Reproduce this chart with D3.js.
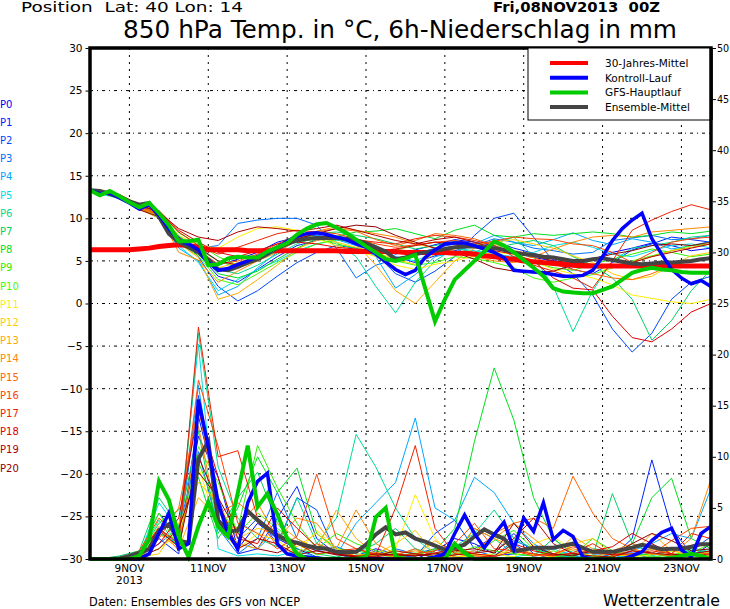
<!DOCTYPE html>
<html>
<head>
<meta charset="utf-8">
<script src="https://cdn.jsdelivr.net/npm/d3@7"></script>
<style>
  body { margin: 0; background: #fff; }
  text { font-family: "DejaVu Sans", sans-serif; }
</style>
</head>
<body>
<div id="chart"></div>
<script>
// time axis (hours after 08NOV2013 00Z)
const hours = d3.range(0, 379, 6)        // main runs, 6h steps
const pertHours = d3.range(6, 379, 12)   // members, read every 12h
const dateTickHours = [24, 72, 120, 168, 216, 264, 312, 360]
const dateLabels = ["9NOV", "11NOV", "13NOV", "15NOV", "17NOV", "19NOV", "21NOV", "23NOV"]
const tempTicks = [-30, -25, -20, -15, -10, -5, 0, 5, 10, 15, 20, 25, 30]
const precTicks = [0, 5, 10, 15, 20, 25, 30, 35, 40, 45, 50]

// 850 hPa temperature, main lines
const climTemp = [6.3,6.3,6.3,6.3,6.3, 6.4,6.5,6.7,6.8,6.9, 6.8,6.6,6.3,6.3,6.3, 6.3,6.2,6.2,6.2,6.2,
  6.2,6.2,6.2,6.2,6.2, 6.2,6.1,6.1,6.1,6.1, 6.1,6.1,6.0,6.0,6.0, 6.0,6.0,5.9,5.9,5.8,
  5.6,5.5,5.3,5.2,5.0, 4.9,4.8,4.7,4.6,4.5, 4.4,4.4,4.4,4.4,4.4, 4.4,4.4,4.4,4.4,4.4, 4.4,4.4,4.4,4.4]
const ctrlTemp = [13.3,12.9,13.0,12.4,11.8, 11.1,11.6,10.4,8.8,7.4, 7.0,6.3,4.8,3.9,4.1, 4.6,5.0,5.5,6.0,6.6,
  7.3,7.9,8.2,8.3,8.1, 7.8,7.5,7.0,6.6,5.8, 4.9,4.0,3.4,3.9,5.4, 6.3,7.0,7.1,7.1,6.8,
  6.4,6.0,5.4,3.9,3.8, 3.7,3.6,3.4,3.2,3.2, 3.3,3.9,5.5,7.4,8.8, 9.8,10.6,7.6,5.8,4.0, 3.0,2.3,2.7,2.0]
const gfsTemp = [13.3,12.7,13.2,12.6,11.9, 11.3,11.8,10.6,9.2,7.3, 7.3,7.5,4.5,4.6,5.3, 5.5,5.4,5.4,6.1,6.6,
  7.1,8.1,8.8,9.3,9.45, 8.9,8.3,7.5,6.7,6.0, 5.2,5.0,5.3,5.7,1.8, -2.1,0.5,2.8,3.9,5.0,
  6.1,7.3,6.8,6.0,5.1, 4.2,3.2,1.8,1.4,1.3, 1.2,1.2,1.6,2.0,2.8, 3.6,3.95,4.2,4.0,3.9, 3.7,3.6,3.6,3.6]
const meanTemp = [13.3,13.2,12.9,12.5,12.0, 11.6,11.8,10.2,8.2,7.2, 6.6,6.0,5.1,4.0,3.9, 4.3,4.8,5.2,5.8,6.5,
  7.0,7.4,7.6,7.7,7.7, 7.7,7.6,7.4,7.1,6.6, 6.1,5.2,5.4,5.8,6.0, 6.2,6.4,6.6,6.7,6.7,
  6.6,6.5,6.3,6.0,5.8, 5.7,5.5,5.4,5.2,5.0, 5.0,5.2,5.3,5.1,4.9, 4.7,4.6,4.7,4.8,4.8, 4.9,5.0,5.2,5.3]

// 6h precipitation, main lines
const ctrlPrec = [0,0,0,0,0, 0,0.5,2.5,4.5,1.0, 1.5,15.6,11.0,5.5,2.5, 1.0,5.5,7.6,8.4,1.5,
  0.5,0.3,0.2,0.1,0, 0,0,0,0,0, 0,0,0,0,0, 0.2,0.5,2.5,4.3,2.5,
  1.1,2.4,3.6,1.0,4.0, 2.7,5.5,1.9,2.8,2.2, 0.2,0,0,0,0, 0.3,0.7,1.8,2.6,3.0, 0.9,0.2,2.5,3.2]
const gfsPrec = [0,0,0,0,0, 0.3,1.9,7.6,5.8,2.2, 0.2,3.2,5.6,3.2,2.2, 6.5,11.1,5.1,6.4,4.4,
  2.0,0.5,0,0,0, 0,0,0,0.2,4.1, 5.0,0.2,0,0,0, 0,0,1.5,0.6,0,
  0,0,0,0,0, 0,0,0,0,0, 0,0,0,0,0, 0,0,0,0,0.1, 0.3,0.5,0.3,0]
const meanPrec = [0,0,0,0.05,0.3, 0.6,1.0,2.8,3.4,1.8, 1.6,9.8,11.5,3.8,2.7, 2.8,4.7,3.8,3.0,2.3,
  1.8,1.6,1.3,1.1,1.0, 0.7,0.65,0.7,1.4,2.4, 3.1,2.4,2.6,2.0,1.7, 1.3,0.9,1.1,1.4,2.2,
  2.9,2.4,2.0,0.8,0.9, 1.1,1.1,1.1,1.3,1.5, 1.1,0.7,0.7,0.7,0.9, 1.1,1.4,1.2,0.95,1.0, 1.0,1.2,1.45,1.45]

// ensemble members, temperature
const tP0 = [13.1,12.6,11.3,10.4,7.8,6.2,4.5,5.2, 6.0,7.2,7.8,8.0,7.6,7.0,6.4,5.8, 6.3,6.9,7.5,7.2,6.8,6.0,5.4,5.0, 4.6,5.2,6.0,6.5,7.1,6.8,6.2,6.5]
const tP1 = [13.2,12.4,11.0,10.6,7.2,5.8,3.2,2.5, 4.0,5.5,6.8,7.4,7.9,7.5,6.3,5.5, 4.8,5.6,6.2,6.8,7.3,6.5,5.9,5.2, 4.0,3.5,4.8,6.3,7.0,7.8,7.5,7.2]
const tP2 = [13.0,12.7,11.5,10.2,8.0,5.5,2.0,0.3, 1.5,3.2,4.8,6.0,6.8,6.5,5.8,3.5, 2.5,3.8,5.5,8.0,10.0,10.6,7.8,5.0, 3.5,1.0,-3.0,-5.7,-3.5,0.5,2.5,3.2]
const tP3 = [13.3,12.5,11.1,10.8,7.0,6.5,6.8,9.4, 9.8,10.0,10.0,9.2,6.5,3.0,4.5,5.2, 5.8,6.5,7.0,6.8,7.6,7.2,6.5,6.2, 5.8,6.0,7.4,7.7,8.0,7.5,7.6,8.0]
const tP4 = [13.0,12.6,11.4,10.3,6.5,5.0,1.0,2.0, 4.2,6.0,7.4,8.0,7.5,6.8,5.5,1.8, 3.4,5.5,6.0,7.0,8.0,7.2,6.8,7.5, 8.3,7.4,6.9,7.6,7.2,6.4,6.8,7.3]
const tP5 = [12.9,12.3,11.2,10.0,6.8,4.8,1.5,2.8, 4.0,5.0,6.2,7.0,7.4,7.6,6.8,5.5, 5.0,6.0,6.5,6.2,5.8,5.5,6.0,6.8, 7.2,6.6,5.8,5.5,6.2,6.8,7.0,6.5]
const tP6 = [13.1,12.5,11.5,10.5,7.6,5.9,4.0,3.5, 4.5,5.8,7.0,7.8,7.2,5.5,2.0,-1.1, 2.5,5.0,6.5,6.0,7.0,7.8,5.5,2.0, -3.3,1.5,5.0,6.5,6.8,7.2,7.8,8.0]
const tP7 = [13.2,12.6,11.0,10.7,7.9,6.4,5.0,4.2, 5.0,6.2,7.5,8.2,8.4,8.0,7.6,7.0, 6.4,6.8,7.3,7.0,6.5,7.0,7.4,6.8, 5.5,4.5,3.0,0.5,-4.3,-2.0,1.5,4.0]
const tP8 = [13.0,12.4,11.3,10.4,7.4,6.0,3.5,3.0, 3.8,5.2,6.5,7.6,7.9,8.4,8.5,8.8, 8.2,7.6,8.6,9.2,8.0,7.8,8.2,8.0, 8.2,8.4,8.2,7.8,8.0,8.4,8.2,8.5]
const tP9 = [13.1,12.7,11.6,10.8,8.3,7.0,5.5,4.5, 5.5,6.5,7.2,7.6,7.0,6.5,6.0,6.3, 6.8,7.2,7.0,6.6,6.0,5.2,4.8,4.2, 3.9,4.6,5.2,5.8,6.4,6.0,5.5,5.8]
const tP10 = [13.2,12.5,11.2,10.3,7.0,5.6,2.8,2.2, 3.5,4.8,6.0,7.0,7.5,7.2,6.0,5.0, 4.5,4.8,5.5,5.3,4.8,4.2,3.0,2.5, 3.0,3.4,4.2,5.0,5.6,6.2,6.8,7.0]
const tP11 = [13.0,12.6,11.3,10.6,8.0,6.8,6.5,7.8, 8.8,9.0,8.6,7.6,6.8,6.2,5.5,4.5, 4.0,4.6,5.0,5.6,6.0,5.8,5.0,4.0, 3.5,3.0,2.2,1.0,0.6,0.2,0.0,0.5]
const tP12 = [13.1,12.5,11.4,10.2,7.6,6.0,4.2,4.8, 5.6,6.6,7.4,7.8,7.2,6.6,6.0,5.2, 4.6,5.8,6.4,6.9,7.2,7.5,7.0,6.5, 5.6,4.8,3.5,2.8,3.2,4.5,5.6,6.0]
const tP13 = [13.2,12.4,11.1,10.0,7.1,5.4,0.5,1.2, 2.8,4.5,6.4,7.4,8.0,7.0,4.5,1.5, 0.0,2.5,5.0,6.5,7.0,6.2,5.8,5.4, 5.0,4.6,4.2,4.8,5.5,6.2,6.6,7.0]
const tP14 = [13.0,12.6,11.0,10.5,6.0,5.1,2.5,3.8, 5.0,6.0,7.4,8.5,9.0,8.6,8.2,7.8, 7.0,6.5,6.0,5.5,5.0,4.8,5.5,6.4, 7.2,7.8,8.0,7.8,8.4,8.6,8.8,9.0]
const tP15 = [13.1,12.3,11.2,10.4,7.3,6.1,3.8,4.2, 5.2,6.4,7.6,8.4,8.8,8.5,7.5,6.8, 7.4,8.2,8.0,7.6,6.8,6.0,5.4,4.6, 4.0,3.5,3.0,2.8,3.5,4.5,5.0,5.5]
const tP16 = [13.0,12.5,11.3,10.6,7.7,6.3,4.6,5.0, 5.8,7.0,8.0,8.4,8.2,7.6,7.0,6.6, 6.9,7.2,7.4,7.0,7.3,7.8,7.6,7.5, 7.0,6.8,6.0,4.8,6.0,7.2,7.6,7.8]
const tP17 = [13.2,12.6,11.4,10.8,8.4,6.8,5.8,6.6, 7.4,8.2,8.6,8.4,7.8,7.5,7.2,7.0, 7.6,8.0,7.8,7.4,6.8,5.5,4.5,3.8, 3.0,1.8,5.0,8.6,9.8,10.8,11.6,11.0]
const tP18 = [13.1,12.7,11.5,10.9,8.6,7.2,6.0,5.5, 6.2,7.0,7.2,7.0,6.6,6.4,6.2,6.4, 6.8,7.2,7.0,6.6,6.2,5.8,5.0,3.0, 1.8,1.6,-1.5,-4.0,-4.5,-3.0,-1.0,0.0]
const tP19 = [13.3,12.8,11.6,10.7,8.8,7.8,7.4,8.4, 9.0,8.8,8.5,8.8,9.2,8.6,8.0,7.4, 7.0,7.5,7.8,7.2,6.5,6.0,5.6,5.0, 4.8,4.6,4.4,4.8,5.5,6.0,6.5,7.0]
const tP20 = [13.0,12.4,11.0,10.2,7.5,6.6,5.0,4.5, 5.5,6.8,7.6,8.2,8.8,9.2,9.0,8.0, 7.2,6.5,6.0,5.2,4.2,3.8,3.6,3.8, 4.5,5.2,5.8,6.2,6.8,7.0,6.8,7.2]

// ensemble members, precipitation
const rP0 = [0,0,0.5,3.0,1.2,12.0,8.0,1.0, 3.5,2.0,1.0,0.2,0,0.3,1.0,0.5, 0,0.8,2.0,1.5,0.5,2.5,0.5,0, 0.3,0,0,0.5,1.0,0.5,0.2,1.5]
const rP1 = [0,0,0.3,2.0,0.5,14.0,6.0,0.5, 1.0,4.0,7.1,2.0,0.5,0,0.2,0, 0.5,1.0,0.2,0,0.3,0.5,1.2,0.4, 0,0,0.2,2.0,9.7,3.0,0.5,0.8]
const rP2 = [0,0,0.6,4.5,2.0,16.0,5.0,2.0, 4.0,1.5,6.0,4.8,0.5,0.2,0.8,0.3, 0.2,2.5,3.8,1.0,2.2,1.5,0.2,0, 0.2,0,0.5,0.6,0.3,0,0.8,2.2]
const rP3 = [0,0,0.2,1.5,3.0,10.5,3.0,0.5, 2.0,6.5,2.0,0.8,1.2,0.5,0.3,1.0, 0.5,0.2,0.5,0.8,0.3,1.8,1.0,0, 0.4,0.6,0.2,0,0.4,1.0,0.5,0.3]
const rP4 = [0,0,0.8,2.5,1.5,17.0,4.0,1.5, 1.0,2.8,0.5,1.5,0.4,3.5,5.5,7.5, 13.8,5.0,3.8,8.0,6.5,3.5,1.5,0.4, 0.8,0.5,0,0.8,1.5,2.5,2.0,6.9]
const rP5 = [0,0.2,0.3,5.5,2.8,21.0,1.0,0.3, 0.5,0.3,0.8,0.2,0,0.4,0.6,0.3, 1.0,0.5,0.3,0,0.5,0.2,0.5,1.0, 0.3,0.2,0,0.5,0.3,0.8,1.2,0.5]
const rP6 = [0,0,0.5,3.8,1.0,22.1,9.0,4.0, 2.0,1.2,6.0,1.5,4.0,12.2,9.0,5.0, 2.0,0.5,1.2,2.5,4.8,2.0,1.0,0.4, 0.2,1.0,0.8,0.3,0.6,0.2,0.5,1.0]
const rP7 = [0,0.3,0.8,6.0,3.2,12.5,2.5,6.0, 8.5,3.5,1.0,0.5,0.2,0.6,1.5,3.0, 1.0,0.2,0.5,3.0,2.0,0.5,0.3,2.0, 0.5,0.3,6.4,1.5,0.5,0.2,1.0,0.4]
const rP8 = [0,0,0.4,3.5,4.8,8.0,2.0,5.0, 10.0,6.5,8.9,2.5,1.0,0.8,0.4,0.2, 0.5,0.8,3.0,11.5,18.7,13.6,6.0,2.0, 0.5,0.3,0.2,1.5,6.0,7.9,2.0,1.0]
const rP9 = [0,0,0.2,2.5,1.8,9.5,4.5,3.0, 11.1,7.0,3.5,1.0,2.5,1.5,0.8,0.5, 0.3,1.0,0.6,0.4,1.8,2.8,1.0,0.2, 0.4,2.0,0.8,0.3,0.5,0.4,0.8,3.5]
const rP10 = [0,0,0.5,4.5,1.0,11.0,7.5,2.5, 4.5,3.0,1.5,0.4,0.8,0.2,0.5,0.3, 0.6,0.2,0.4,1.2,0.8,0.5,0.3,0.8, 0.2,0,0.3,0.5,0.2,0.4,0.6,1.5]
const rP11 = [0,0,0.3,1.0,2.5,9.0,3.0,1.0, 2.5,1.8,0.5,2.8,1.0,0.5,0.3,1.0, 6.3,2.0,0.2,0.3,0.5,0.2,1.5,2.2, 0.8,0.3,0.5,0.2,0.4,0.8,0.3,0.6]
const rP12 = [0,0,0.2,0.5,3.5,7.5,5.5,2.0, 3.0,2.5,1.2,2.5,0.8,0.3,0.5,1.5, 2.8,0.4,0.2,0.5,0.3,1.0,0.4,0.2, 1.5,2.0,0.5,0.3,1.0,0.5,0.2,0.8]
const rP13 = [0,0,0.6,2.5,1.0,6.0,4.0,1.5, 1.0,3.5,2.0,1.0,4.8,2.0,0.5,0.2, 0.4,1.8,0.5,0.8,2.0,1.2,0.5,0.3, 2.2,1.0,0.3,0.5,2.5,0.8,0.5,0.3]
const rP14 = [0,0,0.4,3.2,0.8,13.0,3.5,3.0, 5.5,2.0,4.0,3.5,1.0,4.8,1.5,0.5, 0.8,0.5,0.3,3.0,2.0,3.5,2.0,0.5, 1.0,0.5,0.8,1.5,1.0,0.5,2.0,7.8]
const rP15 = [0,0,0.3,2.0,5.0,15.0,4.5,5.5, 4.0,1.2,0.5,1.5,0.8,0.3,0.6,0.4, 1.0,0.2,0.8,0.5,2.5,3.5,4.0,3.0, 8.1,4.5,2.0,1.0,0.5,0.3,0.4,0.6]
const rP16 = [0,0,0.8,4.0,2.2,17.5,11.0,3.5, 2.5,1.0,2.2,8.3,2.0,1.0,0.5,0.3, 0.5,0.8,1.5,3.5,1.0,0.8,0.3,0.5, 1.2,0.6,0.4,0.8,0.5,1.8,3.0,3.2]
const rP17 = [0,0,0.5,3.0,1.5,22.7,10.0,10.6, 4.0,2.5,1.5,0.5,0.8,1.0,0.4,5.0, 11.1,3.0,0.5,0.3,0.2,0.8,0.5,0.3, 0.6,1.5,0.4,0.5,0.8,0.5,2.5,2.0]
const rP18 = [0,0,0.3,1.5,4.0,14.5,8.0,2.0, 1.5,5.0,3.0,1.2,0.5,0.3,0.2,0.5, 0.3,0.6,1.0,0.5,0.3,1.5,0.8,0.4, 0.5,0.8,1.2,2.5,1.5,0.5,0.3,0.5]
const rP19 = [0,0,0.6,2.8,1.2,10.0,5.5,1.0, 2.0,1.5,0.4,0.8,0.5,0.2,0.3,0.8, 0.5,0.2,0.4,0.6,0.8,2.0,4.0,1.5, 0.5,0.3,0.2,0.8,0.6,0.4,0.5,0.8]
const rP20 = [0,0,0.2,1.0,3.0,8.5,6.0,2.5, 1.0,0.6,1.5,0.8,0.4,0.2,0.5,0.4, 0.3,0.5,0.8,1.0,0.6,3.5,1.2,0.5, 0.3,0.8,0.4,1.5,2.5,1.8,0.8,1.0]

const memberNames = ["P0","P1","P2","P3","P4","P5","P6","P7","P8","P9","P10",
  "P11","P12","P13","P14","P15","P16","P17","P18","P19","P20"]
const memberColors = ["#0000ff","#0022ff","#0048ff","#0070ff","#00a8ff","#00dde8","#00dd90","#00d060",
  "#00e020","#30ee00","#40ff00","#ffee00","#ffcc00","#ffaa00","#ff8800","#ff6600","#ff4400","#ee2200",
  "#dd0000","#b00000","#900000"]
const legendNames = ["30-Jahres-Mittel", "Kontroll-Lauf", "GFS-Hauptlauf", "Ensemble-Mittel"]
const legendColors = ["#ff0000", "#0000ff", "#00cc00", "#444444"]

const memberTemps = [tP0,tP1,tP2,tP3,tP4,tP5,tP6,tP7,tP8,tP9,tP10,tP11,tP12,tP13,tP14,tP15,tP16,tP17,tP18,tP19,tP20]
const memberPrecs = [rP0,rP1,rP2,rP3,rP4,rP5,rP6,rP7,rP8,rP9,rP10,rP11,rP12,rP13,rP14,rP15,rP16,rP17,rP18,rP19,rP20]

const pL = 90, pR = 711, pT = 48, pB = 559

const svg = d3.select("#chart").append("svg")
  .attr("width", 730)
  .attr("height", 609)
  .style("background-color", "#fff")

const x = d3.scaleLinear().domain([0, 378]).range([pL, pR])
const yT = d3.scaleLinear().domain([-30, 30]).range([pB, pT])
const yP = d3.scaleLinear().domain([0, 50]).range([pB, pT])

svg.append("defs").append("clipPath").attr("id", "plot")
  .append("rect").attr("x", pL).attr("y", pT).attr("width", pR - pL).attr("height", pB - pT + 3)

// dotted grid
svg.append("g").selectAll("line").data(dateTickHours).join("line")
  .attr("x1", d => x(d)).attr("x2", d => x(d))
  .attr("y1", pT).attr("y2", pB)
  .attr("stroke", "#000").attr("stroke-width", 1)
  .attr("stroke-dasharray", "2,5")
svg.append("g").selectAll("line").data(tempTicks.slice(1, -1)).join("line")
  .attr("x1", pL).attr("x2", pR)
  .attr("y1", d => yT(d)).attr("y2", d => yT(d))
  .attr("stroke", "#000").attr("stroke-width", 1)
  .attr("stroke-dasharray", "3,4,1,4")

const plot = svg.append("g").attr("clip-path", "url(#plot)")

const lineT = hs => d3.line().x((d, i) => x(hs[i])).y(d => yT(d))
const lineP = hs => d3.line().x((d, i) => x(hs[i])).y(d => yP(d))

// members
memberPrecs.forEach((s, k) => {
  plot.append("path").datum(s).attr("d", lineP(pertHours))
    .attr("fill", "none").attr("stroke", memberColors[k]).attr("stroke-width", 1)
})
memberTemps.forEach((s, k) => {
  plot.append("path").datum(s).attr("d", lineT(pertHours))
    .attr("fill", "none").attr("stroke", memberColors[k]).attr("stroke-width", 1)
})

// frame
svg.append("rect")
  .attr("x", pL).attr("y", pT).attr("width", pR - pL).attr("height", pB - pT)
  .attr("fill", "none").attr("stroke", "#000").attr("stroke-width", 3.5)

// main runs
const mains = [
  { t: climTemp, p: null, c: legendColors[0], w: 5 },
  { t: meanTemp, p: meanPrec, c: legendColors[3], w: 4 },
  { t: ctrlTemp, p: ctrlPrec, c: legendColors[1], w: 3.5 },
  { t: gfsTemp, p: gfsPrec, c: legendColors[2], w: 4 }
]
mains.forEach(m => {
  if (m.p) plot.append("path").datum(m.p).attr("d", lineP(hours))
    .attr("fill", "none").attr("stroke", m.c).attr("stroke-width", m.w)
  plot.append("path").datum(m.t).attr("d", lineT(hours))
    .attr("fill", "none").attr("stroke", m.c).attr("stroke-width", m.w)
})

// axes
const axL = svg.append("g").attr("transform", `translate(${pL - 1.5},0)`)
  .call(d3.axisLeft(yT).tickValues(tempTicks).tickSize(3).tickPadding(3))
const axR = svg.append("g").attr("transform", `translate(${pR + 1.5},0)`)
  .call(d3.axisRight(yP).tickValues(precTicks).tickSize(3.5).tickPadding(1))
axL.selectAll("text").attr("font-size", 10.5)
axR.selectAll("text").attr("font-size", 9.6)
;[axL, axR].forEach(a => {
  a.select(".domain").remove()
  a.selectAll("text").attr("font-family", "DejaVu Sans").attr("fill", "#000")
  a.selectAll("line").attr("stroke", "#000")
})

svg.append("g").selectAll("text").data(dateLabels).join("text")
  .attr("x", (d, i) => x(dateTickHours[i])).attr("y", 572)
  .attr("text-anchor", "middle").attr("font-size", 10.5)
  .text(d => d)
svg.append("text").attr("x", x(dateTickHours[0])).attr("y", 584)
  .attr("text-anchor", "middle").attr("font-size", 10.5).text("2013")

// member labels
svg.append("g").selectAll("text").data(memberNames).join("text")
  .attr("x", 0).attr("y", (d, i) => 104 + i * 18.2)
  .attr("dominant-baseline", "central")
  .attr("font-size", 10).attr("fill", (d, i) => memberColors[i])
  .text(d => d)

// legend
const lg = svg.append("g")
lg.append("rect").attr("x", 528).attr("y", pT).attr("width", pR - 528).attr("height", 72)
  .attr("fill", "#fff").attr("stroke", "#000").attr("stroke-width", 1)
legendNames.forEach((n, i) => {
  const yy = 63 + i * 14.7
  lg.append("line").attr("x1", 550).attr("x2", 588).attr("y1", yy).attr("y2", yy)
    .attr("stroke", legendColors[i]).attr("stroke-width", 4)
  lg.append("text").attr("x", 605).attr("y", yy).attr("dominant-baseline", "central")
    .attr("font-size", 10.5).text(n)
})
svg.append("line").attr("x1", pR).attr("x2", pR).attr("y1", pT).attr("y2", 120)
  .attr("stroke", "#000").attr("stroke-width", 3.5)

// titles
svg.append("text").attr("x", 21).attr("y", 12).attr("font-size", 14)
  .attr("textLength", 222).attr("lengthAdjust", "spacingAndGlyphs")
  .style("white-space", "pre").text("Position  Lat: 40 Lon: 14")
svg.append("text").attr("x", 493).attr("y", 11.5).attr("font-size", 14).attr("font-weight", "bold")
  .attr("textLength", 167).attr("lengthAdjust", "spacingAndGlyphs")
  .style("white-space", "pre").text("Fri,08NOV2013  00Z")
svg.append("text").attr("x", 123).attr("y", 37.5).attr("font-size", 24.5)
  .attr("textLength", 554).attr("lengthAdjust", "spacingAndGlyphs")
  .text("850 hPa Temp. in °C, 6h-Niederschlag in mm")
svg.append("text").attr("x", 89).attr("y", 606).attr("font-size", 12)
  .attr("textLength", 211).attr("lengthAdjust", "spacingAndGlyphs")
  .text("Daten: Ensembles des GFS von NCEP")
svg.append("text").attr("x", 603).attr("y", 606).attr("font-size", 15)
  .attr("textLength", 117).attr("lengthAdjust", "spacingAndGlyphs")
  .text("Wetterzentrale")
</script>
</body>
</html>
